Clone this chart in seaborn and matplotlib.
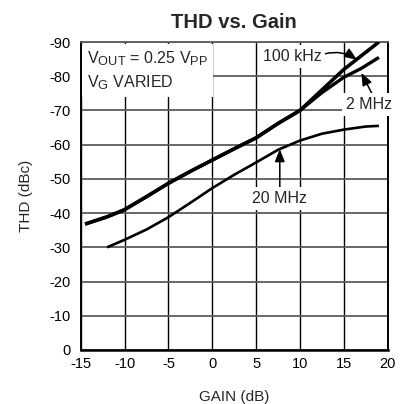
import matplotlib
matplotlib.use("Agg")
import matplotlib.pyplot as plt
import matplotlib._mathtext as _mt
import seaborn as sns
import pandas as pd

# ---- data ----
gain_100k = [-14.5, -12, -10, -7.5, -5, -2.5, 0, 2.5, 5, 7.5, 10, 12.5, 15, 17, 19]
thd_100k = [-36.8, -38.9, -41.0, -44.8, -48.7, -52.2, -55.5, -58.8, -62.0, -66.2, -70.0, -76.0, -82.0, -86.0, -90.0]

gain_2m = [-14.5, -12, -10, -7.5, -5, -2.5, 0, 2.5, 5, 7.5, 10, 12.5, 15, 17, 19]
thd_2m = [-36.8, -38.9, -41.0, -44.8, -48.7, -52.2, -55.5, -58.8, -62.0, -66.2, -70.0, -75.2, -79.7, -82.3, -85.5]

gain_20m = [-12, -10, -7.5, -5, -2.5, 0, 2.5, 5, 7.5, 10, 12.5, 15, 17.5, 19]
thd_20m = [-30.0, -32.2, -35.2, -38.8, -43.0, -47.3, -51.2, -54.8, -58.5, -61.2, -63.2, -64.4, -65.3, -65.5]

x_ticks = [-15, -10, -5, 0, 5, 10, 15, 20]
y_ticks = [0, -10, -20, -30, -40, -50, -60, -70, -80, -90]

title = "THD vs. Gain"
x_label = "GAIN (dB)"
y_label = "THD (dBc)"

sns.set_theme(style="white")
plt.rcParams["font.family"] = ["Liberation Sans", "DejaVu Sans"]
plt.rcParams["mathtext.fontset"] = "custom"
plt.rcParams["mathtext.rm"] = "Liberation Sans"
plt.rcParams["mathtext.it"] = "Liberation Sans"
plt.rcParams["mathtext.bf"] = "Liberation Sans:bold"
try:
    _mt.SHRINK_FACTOR = 0.8
except Exception:
    pass

fig = plt.figure(figsize=(4.03, 4.04), dpi=100)
ax = fig.add_axes([0.2002, 0.1337, 0.7618, 0.7623])

df100 = pd.DataFrame({"gain": gain_100k, "thd": thd_100k})
df2 = pd.DataFrame({"gain": gain_2m, "thd": thd_2m})
df20 = pd.DataFrame({"gain": gain_20m, "thd": thd_20m})

line_kw = dict(color="black", sort=False, zorder=4, solid_joinstyle="round", solid_capstyle="butt")
sns.lineplot(data=df2, x="gain", y="thd", ax=ax, linewidth=2.4, **line_kw)
sns.lineplot(data=df100, x="gain", y="thd", ax=ax, linewidth=2.6, **line_kw)
sns.lineplot(data=df20, x="gain", y="thd", ax=ax, linewidth=1.9, **line_kw)

ax.set_xlim(-15, 20)
ax.set_ylim(0, -90)
ax.set_xticks(x_ticks)
ax.set_yticks(y_ticks)
ax.set_xticklabels([str(v) for v in x_ticks])
ax.set_yticklabels([str(v) for v in y_ticks])
ax.tick_params(axis="both", length=0, labelsize=10.5, colors="black")
ax.tick_params(axis="y", pad=7)
ax.tick_params(axis="x", pad=5)

ax.set_axisbelow(True)
ax.yaxis.grid(True, color="#5c5c5c", lw=1.3)
ax.xaxis.grid(True, color="black", lw=1.0)

for side in ["left", "right", "bottom"]:
    ax.spines[side].set_color("black")
    ax.spines[side].set_linewidth(1.4)
ax.spines["bottom"].set_linewidth(1.8)
ax.spines["top"].set_color("#5c5c5c")
ax.spines["top"].set_linewidth(1.3)

ax.set_title(title, fontsize=14.5, fontweight="bold", pad=10)
ax.set_xlabel(x_label, fontsize=11, labelpad=14)
ax.set_ylabel(y_label, fontsize=11, labelpad=12)

box = dict(boxstyle="square,pad=0.25", fc="white", ec="none")

ax.text(-14.3, -88.0, "V$_{\\mathrm{OUT}}$ = 0.25 V$_{\\mathrm{PP}}$\nV$_{\\mathrm{G}}$ VARIED",
        ha="left", va="top", fontsize=11.5, linespacing=1.4,
        bbox=dict(boxstyle="square,pad=0.3", fc="white", ec="none"), zorder=3)

arrow_kw = dict(arrowstyle="-|>,head_length=0.65,head_width=0.26", color="black", lw=1.1, shrinkA=0, shrinkB=0)

ax.annotate("100 kHz", xy=(16.5, -84.8), xytext=(9.1, -85.8), ha="center", va="center", fontsize=11.5,
            bbox=box, zorder=3,
            arrowprops=dict(**arrow_kw, relpos=(1.0, 0.6), connectionstyle="arc3,rad=-0.25"))

ax.annotate("2 MHz", xy=(17.0, -81.0), xytext=(17.9, -71.6), ha="center", va="center", fontsize=11.5,
            bbox=box, zorder=3,
            arrowprops=dict(**arrow_kw, relpos=(0.6, 1.0)))

ax.annotate("20 MHz", xy=(7.7, -58.7), xytext=(7.7, -44.2), ha="center", va="center", fontsize=11.5,
            bbox=box, zorder=3,
            arrowprops=dict(**arrow_kw, relpos=(0.5, 1.0)))

fig.savefig("out.png", dpi=100, facecolor="white")
